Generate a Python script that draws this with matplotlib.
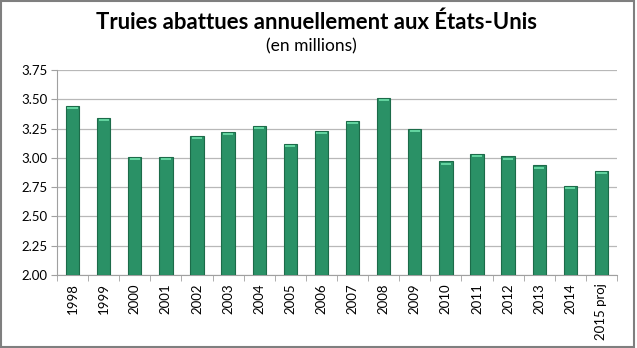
import numpy as np
import matplotlib
matplotlib.use("Agg")
import matplotlib.pyplot as plt
from matplotlib.patches import Rectangle

plt.rcParams["font.family"] = ["Lato", "DejaVu Sans"]

years = ["1998", "1999", "2000", "2001", "2002", "2003", "2004", "2005", "2006",
         "2007", "2008", "2009", "2010", "2011", "2012", "2013", "2014", "2015 proj"]
sows = [3.445, 3.343, 3.010, 3.010, 3.186, 3.223, 3.275, 3.121, 3.232,
        3.314, 3.511, 3.249, 2.970, 3.033, 3.013, 2.936, 2.762, 2.888]

fig = plt.figure(figsize=(6.37, 3.48), dpi=100)
ax = fig.add_axes([57 / 637, 1 - 275 / 348, (617 - 57) / 637, 205 / 348])

x = np.arange(len(years))
bars = ax.bar(x, np.array(sows) - 2.0, bottom=2.0, width=0.43,
              color="#2a9166", edgecolor="#1c6b49", linewidth=0.8, zorder=3)
# light bevel on top of each bar
for b in bars:
    ax.add_patch(Rectangle((b.get_x() + 0.05, b.get_y() + b.get_height() - 0.028),
                           b.get_width() - 0.10, 0.018, color="#62d39f",
                           lw=0, zorder=4))

ax.set_xlim(-0.5, len(years) - 0.5)
ax.set_ylim(2.0, 3.75)
ticks = np.arange(2.0, 3.76, 0.25)
ax.set_yticks(ticks)
ax.set_yticklabels(["%.2f" % v for v in ticks], fontsize=9.5)
ax.yaxis.grid(True, color="#b8b8b8", lw=0.9, zorder=0)
ax.set_xticks(x)
ax.set_xticklabels(years, rotation=90, fontsize=9.5)
ax.tick_params(axis="x", length=0, pad=6)
ax.set_xticks(np.arange(-0.5, len(years)), minor=True)
ax.tick_params(axis="x", which="minor", length=4, color="#a0a0a0", direction="out")
ax.tick_params(axis="y", length=4, color="#a0a0a0", pad=3)
for s in ("top", "right"):
    ax.spines[s].set_visible(False)
for s in ("left", "bottom"):
    ax.spines[s].set_color("#a0a0a0")

fig.text(316 / 637, 1 - 22 / 348, "Truies abattues annuellement aux États-Unis",
         ha="center", va="center", fontsize=15.9, fontweight="bold")
fig.text(311 / 637, 1 - 46 / 348, "(en millions)", ha="center", va="center", fontsize=12.5)

fig.patches.append(Rectangle((0.002, 0.003), 0.994, 0.993, transform=fig.transFigure,
                             fill=False, edgecolor="#7f7f7f", lw=1.5))
fig.savefig("out.png", dpi=100)
